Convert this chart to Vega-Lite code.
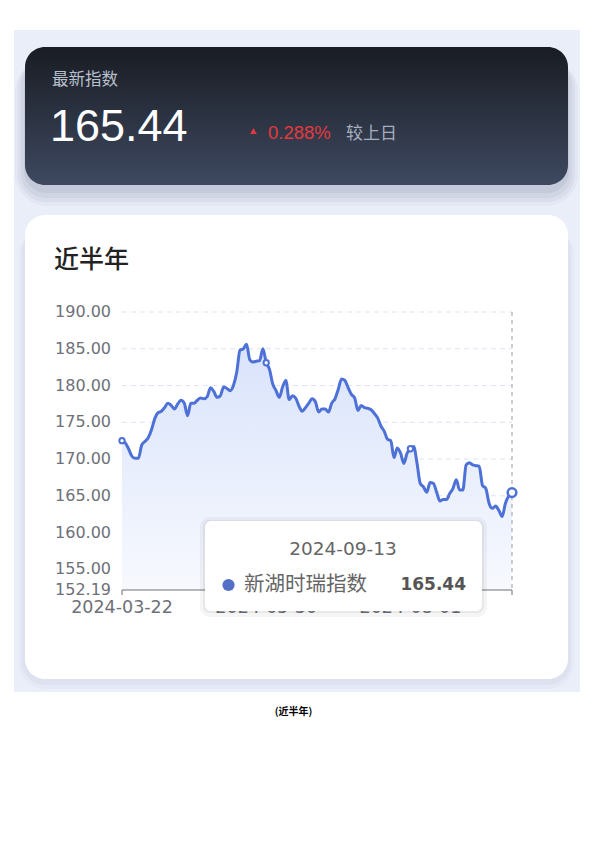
{
  "$schema": "https://vega.github.io/schema/vega-lite/v6.json",
  "width": 595,
  "height": 842,
  "autosize": {"type": "none"},
  "padding": 0,
  "background": "#ffffff",
  "config": {"view": {"stroke": null}, "axis": {"disable": true}},
  "datasets": {
    "series": [
      {"date": "2024-03-22", "value": 172.5}, {"date": "2024-03-25", "value": 172.2}, {"date": "2024-03-26", "value": 171.4},
      {"date": "2024-03-27", "value": 170.4}, {"date": "2024-03-28", "value": 170.1}, {"date": "2024-03-29", "value": 170.1},
      {"date": "2024-04-01", "value": 171.9}, {"date": "2024-04-02", "value": 172.4}, {"date": "2024-04-03", "value": 172.9},
      {"date": "2024-04-08", "value": 174.0}, {"date": "2024-04-09", "value": 175.5}, {"date": "2024-04-10", "value": 176.3},
      {"date": "2024-04-11", "value": 176.5}, {"date": "2024-04-12", "value": 177.0}, {"date": "2024-04-15", "value": 177.6},
      {"date": "2024-04-16", "value": 177.3}, {"date": "2024-04-17", "value": 176.8}, {"date": "2024-04-18", "value": 177.5},
      {"date": "2024-04-19", "value": 178.0}, {"date": "2024-04-22", "value": 177.6}, {"date": "2024-04-23", "value": 175.9},
      {"date": "2024-04-24", "value": 177.6}, {"date": "2024-04-25", "value": 177.6}, {"date": "2024-04-26", "value": 178.0},
      {"date": "2024-04-29", "value": 178.3}, {"date": "2024-04-30", "value": 178.2}, {"date": "2024-05-06", "value": 178.5},
      {"date": "2024-05-07", "value": 179.7}, {"date": "2024-05-08", "value": 179.2}, {"date": "2024-05-09", "value": 178.4},
      {"date": "2024-05-10", "value": 178.6}, {"date": "2024-05-13", "value": 179.8}, {"date": "2024-05-14", "value": 179.6},
      {"date": "2024-05-15", "value": 179.3}, {"date": "2024-05-16", "value": 180.0}, {"date": "2024-05-17", "value": 181.8},
      {"date": "2024-05-20", "value": 184.8}, {"date": "2024-05-21", "value": 185.0}, {"date": "2024-05-22", "value": 185.6},
      {"date": "2024-05-23", "value": 183.5}, {"date": "2024-05-24", "value": 183.2}, {"date": "2024-05-27", "value": 183.3},
      {"date": "2024-05-28", "value": 183.4}, {"date": "2024-05-29", "value": 185.0}, {"date": "2024-05-30", "value": 183.1},
      {"date": "2024-05-31", "value": 182.2}, {"date": "2024-06-03", "value": 180.2}, {"date": "2024-06-04", "value": 179.3},
      {"date": "2024-06-05", "value": 178.4}, {"date": "2024-06-06", "value": 179.8}, {"date": "2024-06-07", "value": 180.7},
      {"date": "2024-06-11", "value": 178.1}, {"date": "2024-06-12", "value": 178.6}, {"date": "2024-06-13", "value": 178.3},
      {"date": "2024-06-14", "value": 177.2}, {"date": "2024-06-17", "value": 176.5}, {"date": "2024-06-18", "value": 177.0},
      {"date": "2024-06-19", "value": 177.6}, {"date": "2024-06-20", "value": 178.2}, {"date": "2024-06-21", "value": 177.8},
      {"date": "2024-06-24", "value": 176.4}, {"date": "2024-06-25", "value": 176.8}, {"date": "2024-06-26", "value": 176.8},
      {"date": "2024-06-27", "value": 176.4}, {"date": "2024-06-28", "value": 177.6}, {"date": "2024-07-01", "value": 178.2},
      {"date": "2024-07-02", "value": 179.5}, {"date": "2024-07-03", "value": 180.9}, {"date": "2024-07-04", "value": 180.7},
      {"date": "2024-07-05", "value": 179.7}, {"date": "2024-07-08", "value": 178.8}, {"date": "2024-07-09", "value": 178.3},
      {"date": "2024-07-10", "value": 176.6}, {"date": "2024-07-11", "value": 177.3}, {"date": "2024-07-12", "value": 177.0},
      {"date": "2024-07-15", "value": 176.9}, {"date": "2024-07-16", "value": 176.7}, {"date": "2024-07-17", "value": 176.2},
      {"date": "2024-07-18", "value": 175.6}, {"date": "2024-07-19", "value": 174.5}, {"date": "2024-07-22", "value": 173.8},
      {"date": "2024-07-23", "value": 172.7}, {"date": "2024-07-24", "value": 172.5}, {"date": "2024-07-25", "value": 170.2},
      {"date": "2024-07-26", "value": 171.5}, {"date": "2024-07-29", "value": 170.8}, {"date": "2024-07-30", "value": 169.4},
      {"date": "2024-07-31", "value": 170.8}, {"date": "2024-08-01", "value": 171.4}, {"date": "2024-08-02", "value": 171.7},
      {"date": "2024-08-05", "value": 169.5}, {"date": "2024-08-06", "value": 166.7}, {"date": "2024-08-07", "value": 166.2},
      {"date": "2024-08-08", "value": 165.5}, {"date": "2024-08-09", "value": 166.8}, {"date": "2024-08-12", "value": 166.7},
      {"date": "2024-08-13", "value": 165.5}, {"date": "2024-08-14", "value": 164.3}, {"date": "2024-08-15", "value": 164.5},
      {"date": "2024-08-16", "value": 164.5}, {"date": "2024-08-19", "value": 165.3}, {"date": "2024-08-20", "value": 166.0},
      {"date": "2024-08-21", "value": 167.2}, {"date": "2024-08-22", "value": 165.8}, {"date": "2024-08-23", "value": 165.8},
      {"date": "2024-08-26", "value": 169.2}, {"date": "2024-08-27", "value": 169.5}, {"date": "2024-08-28", "value": 169.2},
      {"date": "2024-08-29", "value": 169.1}, {"date": "2024-08-30", "value": 169.0}, {"date": "2024-09-02", "value": 166.4},
      {"date": "2024-09-03", "value": 166.0}, {"date": "2024-09-04", "value": 164.0}, {"date": "2024-09-05", "value": 163.3},
      {"date": "2024-09-06", "value": 163.6}, {"date": "2024-09-09", "value": 163.0}, {"date": "2024-09-10", "value": 162.2},
      {"date": "2024-09-11", "value": 164.0}, {"date": "2024-09-12", "value": 164.97}, {"date": "2024-09-13", "value": 165.44}
    ],
    "grid": [{"v": 155}, {"v": 160}, {"v": 165}, {"v": 170}, {"v": 175}, {"v": 180}, {"v": 185}, {"v": 190}],
    "ylabels": [{"v": 152.19}, {"v": 155}, {"v": 160}, {"v": 165}, {"v": 170}, {"v": 175}, {"v": 180}, {"v": 185}, {"v": 190}],
    "one": [{}]
  },
  "layer": [
    {
      "data": {"name": "one"},
      "mark": {"type": "rect", "color": "#eaeef9"},
      "encoding": {"x": {"value": 14}, "x2": {"value": 580}, "y": {"value": 30}, "y2": {"value": 692}}
    },
    {
      "data": {"name": "one"},
      "mark": {"type": "rect", "color": "#5a6480", "opacity": 0.05, "cornerRadius": 32},
      "encoding": {"x": {"value": 15}, "x2": {"value": 578}, "y": {"value": 60}, "y2": {"value": 206}}
    },
    {
      "data": {"name": "one"},
      "mark": {"type": "rect", "color": "#5a6480", "opacity": 0.06, "cornerRadius": 28},
      "encoding": {"x": {"value": 18}, "x2": {"value": 575}, "y": {"value": 60}, "y2": {"value": 202}}
    },
    {
      "data": {"name": "one"},
      "mark": {"type": "rect", "color": "#5a6480", "opacity": 0.07, "cornerRadius": 25},
      "encoding": {"x": {"value": 21}, "x2": {"value": 572}, "y": {"value": 60}, "y2": {"value": 198}}
    },
    {
      "data": {"name": "one"},
      "mark": {"type": "rect", "color": "#5a6480", "opacity": 0.09, "cornerRadius": 22},
      "encoding": {"x": {"value": 24}, "x2": {"value": 569}, "y": {"value": 60}, "y2": {"value": 193}}
    },
    {
      "data": {"name": "one"},
      "mark": {
        "type": "rect",
        "cornerRadius": 20,
        "fill": {"gradient": "linear", "x1": 0, "y1": 0, "x2": 0, "y2": 1,
          "stops": [{"offset": 0, "color": "#191c23"}, {"offset": 1, "color": "#3e4960"}]}
      },
      "encoding": {"x": {"value": 25}, "x2": {"value": 568}, "y": {"value": 47}, "y2": {"value": 185}}
    },
    {
      "data": {"name": "one"},
      "mark": {"type": "text", "text": "最新指数", "font": "Noto Sans CJK SC", "fontSize": 16.5, "color": "#b9c0cd", "align": "left", "baseline": "middle"},
      "encoding": {"x": {"value": 52}, "y": {"value": 80}}
    },
    {
      "data": {"name": "series"},
      "transform": [{"filter": {"field": "date", "equal": "2024-09-13"}}],
      "mark": {"type": "text", "font": "Liberation Sans", "fontSize": 45, "color": "#ffffff", "align": "left", "baseline": "alphabetic"},
      "encoding": {"x": {"value": 50}, "y": {"value": 141}, "text": {"field": "value", "type": "quantitative", "format": ".2f"}}
    },
    {
      "data": {"name": "one"},
      "mark": {"type": "point", "shape": "triangle-up", "filled": true, "color": "#e0393e", "size": 45, "opacity": 1},
      "encoding": {"x": {"value": 253.5}, "y": {"value": 131}}
    },
    {
      "data": {"name": "one"},
      "mark": {"type": "text", "text": "0.288%", "font": "Liberation Sans", "fontSize": 18.5, "color": "#e5393d", "align": "left", "baseline": "alphabetic"},
      "encoding": {"x": {"value": 268}, "y": {"value": 139}}
    },
    {
      "data": {"name": "one"},
      "mark": {"type": "text", "text": "较上日", "font": "Noto Sans CJK SC", "fontSize": 17, "color": "#a5adbf", "align": "left", "baseline": "alphabetic"},
      "encoding": {"x": {"value": 346}, "y": {"value": 139}}
    },
    {
      "data": {"name": "one"},
      "mark": {"type": "rect", "color": "#8a93ab", "opacity": 0.05, "cornerRadius": 27},
      "encoding": {"x": {"value": 19}, "x2": {"value": 574}, "y": {"value": 228}, "y2": {"value": 689}}
    },
    {
      "data": {"name": "one"},
      "mark": {"type": "rect", "color": "#8a93ab", "opacity": 0.07, "cornerRadius": 23},
      "encoding": {"x": {"value": 22}, "x2": {"value": 571}, "y": {"value": 228}, "y2": {"value": 685}}
    },
    {
      "data": {"name": "one"},
      "mark": {"type": "rect", "color": "#ffffff", "cornerRadius": 20},
      "encoding": {"x": {"value": 25}, "x2": {"value": 568}, "y": {"value": 215}, "y2": {"value": 679}}
    },
    {
      "data": {"name": "one"},
      "mark": {"type": "text", "text": "近半年", "font": "Noto Sans CJK SC", "fontSize": 25, "fontWeight": 500, "color": "#222222", "align": "left", "baseline": "middle"},
      "encoding": {"x": {"value": 54}, "y": {"value": 260}}
    },
    {
      "data": {"name": "grid"},
      "mark": {"type": "rule", "color": "#dde4f3", "strokeWidth": 1, "strokeDash": [5, 4]},
      "encoding": {
        "y": {"field": "v", "type": "quantitative", "axis": null},
        "x": {"datum": "2024-03-22", "type": "ordinal"},
        "x2": {"datum": "2024-09-13"}
      }
    },
    {
      "data": {"name": "series"},
      "mark": {
        "type": "area",
        "interpolate": "monotone",
        "fill": {"gradient": "linear", "x1": 0, "y1": 0, "x2": 0, "y2": 1,
          "stops": [{"offset": 0, "color": "#d9e3fb"}, {"offset": 1, "color": "#f7f9fe"}]}
      },
      "encoding": {
        "x": {"field": "date", "type": "ordinal", "axis": null, "scale": {"type": "point", "range": [122, 512], "padding": 0}},
        "y": {"field": "value", "type": "quantitative", "axis": null, "scale": {"domain": [152.19, 190], "range": [590, 312], "nice": false, "zero": false}},
        "y2": {"datum": 152.19}
      }
    },
    {
      "data": {"name": "one"},
      "mark": {"type": "rule", "color": "#6e7079", "strokeWidth": 1},
      "encoding": {
        "x": {"datum": "2024-03-22", "type": "ordinal"},
        "x2": {"datum": "2024-09-13"},
        "y": {"datum": 152.19, "type": "quantitative"}
      }
    },
    {
      "data": {"name": "series"},
      "transform": [{"filter": {"field": "date", "oneOf": ["2024-03-22", "2024-05-30", "2024-08-01", "2024-09-13"]}}],
      "mark": {"type": "rule", "color": "#6e7079", "strokeWidth": 1},
      "encoding": {
        "x": {"field": "date", "type": "ordinal", "axis": null},
        "y": {"datum": 152.19, "type": "quantitative"},
        "y2": {"datum": 151.5}
      }
    },
    {
      "data": {"name": "series"},
      "transform": [{"filter": {"field": "date", "oneOf": ["2024-03-22", "2024-05-30", "2024-08-01"]}}],
      "mark": {"type": "text", "font": "DejaVu Sans", "fontSize": 17.5, "color": "#6e7079", "align": "center", "baseline": "top", "dy": 9},
      "encoding": {
        "x": {"field": "date", "type": "ordinal", "axis": null},
        "y": {"datum": 152.19, "type": "quantitative"},
        "text": {"field": "date", "type": "nominal"}
      }
    },
    {
      "data": {"name": "ylabels"},
      "mark": {"type": "text", "font": "DejaVu Sans", "fontSize": 16, "color": "#6e7079", "align": "right", "baseline": "middle", "dx": -11},
      "encoding": {
        "x": {"datum": "2024-03-22", "type": "ordinal"},
        "y": {"field": "v", "type": "quantitative", "axis": null},
        "text": {"field": "v", "type": "quantitative", "format": ".2f"}
      }
    },
    {
      "data": {"name": "one"},
      "mark": {"type": "rule", "color": "#9a9ea8", "strokeWidth": 1, "strokeDash": [4, 4]},
      "encoding": {
        "x": {"datum": "2024-09-13", "type": "ordinal"},
        "y": {"datum": 190, "type": "quantitative"},
        "y2": {"datum": 152.19}
      }
    },
    {
      "data": {"name": "series"},
      "mark": {"type": "line", "interpolate": "monotone", "color": "#4e71d8", "strokeWidth": 3},
      "encoding": {
        "x": {"field": "date", "type": "ordinal", "axis": null},
        "y": {"field": "value", "type": "quantitative", "axis": null}
      }
    },
    {
      "data": {"name": "series"},
      "transform": [{"filter": {"field": "date", "oneOf": ["2024-03-22", "2024-05-30", "2024-08-01"]}}],
      "mark": {"type": "point", "filled": true, "fill": "#ffffff", "stroke": "#4e71d8", "strokeWidth": 2, "size": 28, "opacity": 1},
      "encoding": {
        "x": {"field": "date", "type": "ordinal", "axis": null},
        "y": {"field": "value", "type": "quantitative", "axis": null}
      }
    },
    {
      "data": {"name": "series"},
      "transform": [{"filter": {"field": "date", "equal": "2024-09-13"}}],
      "mark": {"type": "point", "filled": true, "fill": "#ffffff", "stroke": "#4e71d8", "strokeWidth": 2.5, "size": 75, "opacity": 1},
      "encoding": {
        "x": {"field": "date", "type": "ordinal", "axis": null},
        "y": {"field": "value", "type": "quantitative", "axis": null}
      }
    },
    {
      "data": {"name": "one"},
      "mark": {"type": "rect", "color": "#000000", "opacity": 0.04, "cornerRadius": 10},
      "encoding": {"x": {"value": 200}, "x2": {"value": 487}, "y": {"value": 517}, "y2": {"value": 617}}
    },
    {
      "data": {"name": "one"},
      "mark": {"type": "rect", "color": "#000000", "opacity": 0.05, "cornerRadius": 7},
      "encoding": {"x": {"value": 203}, "x2": {"value": 484}, "y": {"value": 520}, "y2": {"value": 613}}
    },
    {
      "data": {"name": "one"},
      "mark": {"type": "rect", "color": "#ffffff", "cornerRadius": 6},
      "encoding": {"x": {"value": 205}, "x2": {"value": 482}, "y": {"value": 521}, "y2": {"value": 611}}
    },
    {
      "data": {"name": "series"},
      "transform": [{"filter": {"field": "date", "equal": "2024-09-13"}}],
      "mark": {"type": "text", "font": "DejaVu Sans", "fontSize": 18.5, "color": "#666666", "align": "center", "baseline": "middle"},
      "encoding": {"x": {"value": 343}, "y": {"value": 549}, "text": {"field": "date", "type": "nominal"}}
    },
    {
      "data": {"name": "one"},
      "mark": {"type": "point", "filled": true, "color": "#5470c6", "size": 150, "opacity": 1},
      "encoding": {"x": {"value": 228.5}, "y": {"value": 585}}
    },
    {
      "data": {"name": "one"},
      "mark": {"type": "text", "text": "新湖时瑞指数", "font": "Noto Sans CJK SC", "fontSize": 20.5, "color": "#666666", "align": "left", "baseline": "middle"},
      "encoding": {"x": {"value": 244}, "y": {"value": 585}}
    },
    {
      "data": {"name": "series"},
      "transform": [{"filter": {"field": "date", "equal": "2024-09-13"}}],
      "mark": {"type": "text", "font": "DejaVu Sans", "fontSize": 17, "fontWeight": "bold", "color": "#555555", "align": "right", "baseline": "middle"},
      "encoding": {"x": {"value": 466}, "y": {"value": 585}, "text": {"field": "value", "type": "quantitative", "format": ".2f"}}
    },
    {
      "data": {"name": "one"},
      "mark": {"type": "text", "text": "(近半年)", "font": "Noto Sans CJK SC", "fontSize": 10, "fontWeight": "bold", "color": "#000000", "align": "center", "baseline": "middle"},
      "encoding": {"x": {"value": 293.5}, "y": {"value": 712}}
    }
  ]
}
